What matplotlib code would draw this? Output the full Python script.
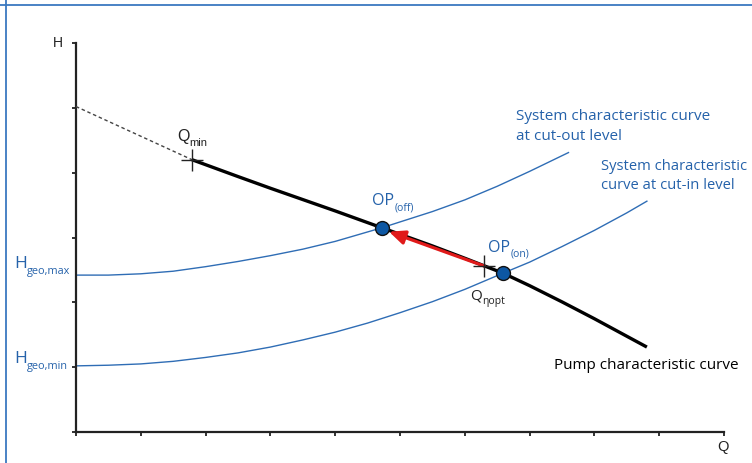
import matplotlib
matplotlib.use("Agg")
import matplotlib.pyplot as plt
from matplotlib.lines import Line2D

# ---- data ----
pump_dash_x = [0.0, 1.79]
pump_dash_y = [5.02, 4.20]
pump_x = [1.79, 2.5, 3.0, 3.5, 4.0, 4.72, 5.0, 5.5, 6.0, 6.59, 7.0, 7.5, 8.0, 8.5, 8.81]
pump_y = [4.20, 3.94, 3.76, 3.585, 3.41, 3.15, 3.05, 2.87, 2.68, 2.45, 2.257, 2.007, 1.747, 1.477, 1.31]

sys_out_x = [0.0, 0.5, 1.0, 1.5, 2.0, 2.5, 3.0, 3.5, 4.0, 4.72, 5.0, 5.5, 6.0, 6.5, 7.0, 7.6]
sys_out_y = [2.42, 2.42, 2.44, 2.48, 2.55, 2.63, 2.72, 2.82, 2.94, 3.15, 3.24, 3.40, 3.58, 3.79, 4.02, 4.31]

sys_in_x = [0.0, 0.5, 1.0, 1.5, 2.0, 2.5, 3.0, 3.5, 4.0, 4.5, 5.0, 5.5, 6.0, 6.59, 7.0, 7.5, 8.0, 8.5, 8.81]
sys_in_y = [1.02, 1.03, 1.05, 1.09, 1.15, 1.22, 1.31, 1.42, 1.54, 1.68, 1.84, 2.01, 2.20, 2.45, 2.62, 2.86, 3.11, 3.38, 3.56]

op_x = [4.72, 6.59]          # OP(off), OP(on)
op_y = [3.15, 2.45]
cross_x = [1.79, 6.30]       # Qmin, Q_eta_opt
cross_y = [4.20, 2.56]
arrow_start = (6.30, 2.56)
arrow_end = (4.83, 3.09)

x_ticks = list(range(0, 11))
y_ticks = list(range(0, 7))

W, H = 752, 463
BLUE_TXT = '#2562aa'
BLUE_LINE = '#2f6db5'

fig = plt.figure(figsize=(W / 100, H / 100), dpi=100)
fig.patch.set_facecolor('white')

# frame lines (top and left)
fig.add_artist(Line2D([0, 1], [1 - 4.5 / H, 1 - 4.5 / H], color='#3a78c0', lw=1.3))
fig.add_artist(Line2D([5.5 / W, 5.5 / W], [0, 1], color='#3a78c0', lw=1.3))

ax = fig.add_axes([76 / W, (H - 432) / H, 648 / W, 389 / H])
ax.set_xlim(0, 10)
ax.set_ylim(0, 6)
for s in ['top', 'right']:
    ax.spines[s].set_visible(False)
for s in ['left', 'bottom']:
    ax.spines[s].set_color('#222222')
    ax.spines[s].set_linewidth(1.6)
ax.set_xticks(x_ticks)
ax.set_yticks(y_ticks)
ax.tick_params(direction='out', length=3, width=1.3, color='#222222',
               labelbottom=False, labelleft=False)
ax.patch.set_alpha(0)

ax.plot(sys_out_x, sys_out_y, color=BLUE_LINE, lw=1.0, zorder=2, clip_on=False)
ax.plot(sys_in_x, sys_in_y, color=BLUE_LINE, lw=1.0, zorder=2, clip_on=False)
ax.plot(pump_dash_x, pump_dash_y, color='#444444', lw=1.0, ls=(0, (2.5, 2)), zorder=3)
ax.plot(pump_x, pump_y, color='black', lw=2.4, zorder=3, solid_capstyle='butt',
        solid_joinstyle='round')

ax.annotate('', xy=arrow_end, xytext=arrow_start,
            arrowprops=dict(arrowstyle='-|>,head_length=0.95,head_width=0.42',
                            color='#e01a1a', lw=2.3, shrinkA=0, shrinkB=0),
            zorder=4)
ax.plot(cross_x, cross_y, ls='none', marker='+', ms=16, mew=1.0, color='#222222', zorder=5)
ax.plot(op_x, op_y, ls='none', marker='o', ms=10, mfc='#0d57a3', mec='#111111', mew=1.0, zorder=6)

fig.canvas.draw()
renderer = fig.canvas.get_renderer()


def px(x, y):
    return x / W, 1 - y / H


def label(x, yb, main, sub, size, subsize, color, family, dy):
    t = fig.text(*px(x, yb), main, fontsize=size, color=color, family=family,
                 ha='left', va='baseline')
    if sub:
        bb = t.get_window_extent(renderer)
        fig.text(bb.x1 / W + 0.3 / W, 1 - (yb + dy) / H, sub, fontsize=subsize,
                 color=color, family=family, ha='left', va='baseline')


ARIAL = ['Liberation Sans', 'DejaVu Sans']
OPEN = ['Open Sans', 'DejaVu Sans']

fig.text(*px(57.5, 43), 'H', fontsize=10, color='#222222', family=ARIAL, ha='center', va='center')
fig.text(*px(723, 447), 'Q', fontsize=10.5, color='#222222', family=ARIAL, ha='center', va='center')

label(177, 141, 'Q', 'min', 11.5, 8, '#222222', ARIAL, 5)
label(14, 268, 'H', 'geo,max', 12.5, 7.8, BLUE_TXT, OPEN, 6)
label(14, 363, 'H', 'geo,min', 12.5, 7.8, BLUE_TXT, OPEN, 6)
label(372, 205, 'OP', '(off)', 11.5, 7.5, BLUE_TXT, OPEN, 5)
label(488, 252, 'OP', '(on)', 11.5, 7.5, BLUE_TXT, OPEN, 5)
label(470, 299, 'Q', 'ηopt', 11, 7.5, '#222222', OPEN, 5)

fig.text(*px(516, 120), 'System characteristic curve', fontsize=11, color=BLUE_TXT,
         family=OPEN, ha='left', va='baseline')
fig.text(*px(516, 140), 'at cut-out level', fontsize=11, color=BLUE_TXT,
         family=OPEN, ha='left', va='baseline')
fig.text(*px(601, 170), 'System characteristic', fontsize=10.6, color=BLUE_TXT,
         family=OPEN, ha='left', va='baseline')
fig.text(*px(601, 189), 'curve at cut-in level', fontsize=10.6, color=BLUE_TXT,
         family=OPEN, ha='left', va='baseline')
fig.text(*px(554, 369), 'Pump characteristic curve', fontsize=11, color='black',
         family=OPEN, ha='left', va='baseline')

fig.savefig('out.png', dpi=100, facecolor='white')
